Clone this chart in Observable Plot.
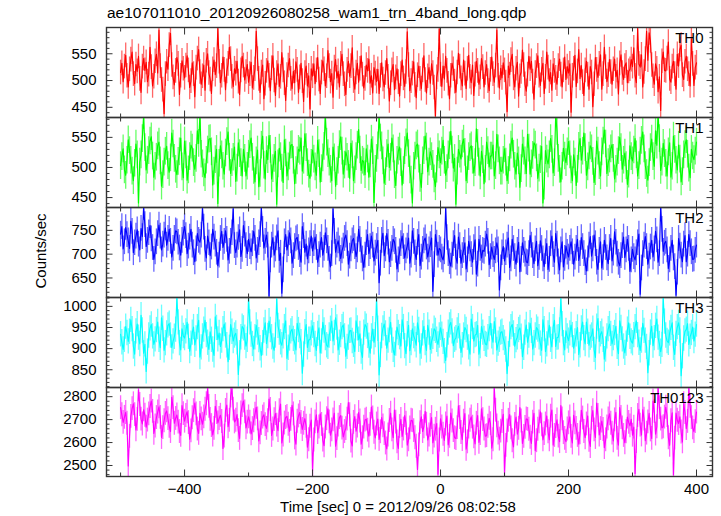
<!DOCTYPE html>
<html><head><meta charset="utf-8">
<script src="https://cdn.jsdelivr.net/npm/d3@7"></script>
<script src="https://cdn.jsdelivr.net/npm/@observablehq/plot@0.6"></script>
<style>
body{margin:0;background:#fff;}
#wrap{position:relative;width:721px;height:516px;font-family:"Liberation Sans",Arial,Helvetica,sans-serif;color:#000;overflow:hidden;}
#title{position:absolute;left:107px;top:4px;font-size:15.5px;white-space:nowrap;}
#ylab{position:absolute;left:40px;top:251px;font-size:15px;white-space:nowrap;transform:translate(-50%,-50%) rotate(-90deg);}
#xlab{position:absolute;left:398px;top:498px;font-size:15px;white-space:nowrap;transform:translateX(-50%);}
</style></head><body>
<div id="wrap">
<div id="title">ae107011010_20120926080258_wam1_trn_4band_long.qdp</div>
<div id="ylab">Counts/sec</div>
<div id="xlab">Time [sec] 0 = 2012/09/26 08:02:58</div>
</div>
<script>
// time grid (sec): one value every tStep seconds from tStart
const tStart = -500, tStep = 2;

const th0 = [515,532,498,526,547,509,488,521,539,553,512,494,530,517,545,503,478,526,541,519,
534,498,511,562,525,490,507,536,549,514,594,527,501,483,438,512,535,521,566,588,
529,506,492,518,543,531,474,509,537,522,
505,528,546,519,487,499,533,512,470,524,541,558,516,493,508,529,482,537,550,514,
502,476,521,538,511,527,597,535,496,509,544,520,483,517,531,562,540,507,489,522,
513,536,498,474,519,545,528,501,516,530,
497,512,534,486,505,521,592,540,503,478,515,529,466,494,518,537,509,481,523,546,
500,472,514,531,489,507,552,519,495,463,510,528,541,503,485,517,496,535,520,478,
506,532,499,461,514,527,490,509,447,522,
508,531,494,519,543,502,476,515,537,521,490,508,556,527,498,513,469,524,539,505,
517,488,531,549,512,493,474,520,536,508,527,561,499,484,515,532,497,522,546,511,
486,503,529,518,540,495,509,477,524,513,
498,521,476,509,533,502,488,514,541,507,462,495,519,530,483,506,522,497,471,512,
538,504,489,516,591,529,481,499,513,535,492,468,510,527,503,485,519,546,501,477,
508,524,495,531,514,487,434,506,520,596,
511,489,527,503,545,518,494,466,509,532,521,498,478,515,551,526,504,490,538,513,
485,522,547,507,496,529,472,511,536,518,493,506,541,525,488,514,530,499,481,520,
544,512,497,528,594,509,486,523,505,533,
519,496,442,527,511,538,549,504,488,522,534,471,508,516,557,529,493,480,511,545,
521,536,498,465,514,527,546,509,491,520,532,476,507,553,524,499,515,482,531,518,
505,493,527,540,511,488,519,544,502,526,
514,531,441,509,522,547,489,517,558,504,528,497,472,519,536,511,484,526,515,451,
493,543,520,506,531,548,484,512,562,525,498,510,539,516,493,521,540,507,519,475,
532,548,514,502,527,533,496,517,521,539,
526,561,509,496,597,531,525,548,488,516,540,592,538,589,574,529,508,493,531,522,
479,507,444,536,553,519,518,541,572,503,497,526,536,512,484,549,527,558,566,510,
502,535,545,521,512,490,578,531,491,524,533];

const th1 = [503,518,531,496,487,512,546,528,512,494,478,507,539,521,441,509,521,548,586,533,
496,512,528,544,551,519,484,502,517,536,542,511,469,488,509,527,535,503,492,516,
557,539,515,497,488,510,526,549,501,483,
544,521,479,496,518,537,532,508,497,515,561,540,589,522,506,491,483,512,529,547,
548,526,471,494,513,530,440,507,536,521,502,489,524,543,559,517,490,508,517,534,
477,499,541,523,508,486,530,515,486,502,
522,538,549,517,495,476,511,529,468,490,537,552,504,481,528,513,553,530,481,498,
515,527,439,506,532,518,499,475,546,524,486,501,519,537,538,512,473,495,511,530,
527,549,494,512,556,533,508,489,482,507,
529,514,501,487,545,523,476,498,516,535,588,542,523,509,497,478,534,516,469,493,
512,538,551,527,489,504,526,517,505,482,540,521,478,496,518,537,563,529,495,512,
509,488,531,514,484,506,547,528,442,497,
515,536,587,549,536,511,474,493,523,539,500,517,549,531,488,470,512,527,534,508,
471,495,528,541,557,523,496,479,441,502,519,536,539,514,482,467,511,528,552,534,
493,509,526,518,505,481,468,497,533,521,
508,527,545,512,487,498,521,536,560,529,499,515,439,494,530,522,514,539,547,525,
478,496,518,533,536,512,491,508,564,540,509,486,527,513,473,497,542,528,501,519,
519,537,486,503,555,531,511,494,494,512,
531,509,478,495,516,537,549,522,502,489,524,511,467,498,539,527,511,490,555,532,
489,506,520,541,537,516,482,499,513,535,441,469,528,514,506,521,548,530,491,508,
589,560,515,497,476,502,532,519,508,526,
543,521,496,478,521,509,470,497,535,548,512,527,557,533,487,501,519,536,531,510,
475,493,544,527,503,486,526,544,562,539,490,508,514,531,538,515,481,497,509,528,
550,533,497,512,524,503,472,489,536,518,
511,529,548,521,486,503,527,545,559,531,503,490,479,508,533,547,518,502,561,537,
590,548,495,509,540,523,507,486,526,541,484,502,552,530,512,496,537,514,476,493,
521,538,546,522,499,483,530,519,513,527,542];

const th2 = [742,758,711,726,756,741,728,712,769,748,703,724,738,751,721,709,754,737,798,762,
716,729,745,760,732,714,689,705,726,743,761,738,709,721,740,755,719,733,752,727,
694,712,733,749,747,725,713,698,729,744,
758,739,701,717,736,752,719,703,684,711,743,729,725,740,796,757,710,692,738,724,
697,715,752,736,721,704,676,698,733,748,714,727,749,731,688,706,727,745,795,718,
703,719,735,751,695,710,760,742,718,701,
731,716,705,722,748,733,692,708,724,741,797,752,713,727,740,719,612,688,719,735,
698,711,734,749,687,702,618,667,726,741,709,722,745,728,681,697,716,732,735,714,
699,683,758,739,704,721,690,707,722,738,
707,722,736,714,683,699,719,735,698,712,745,728,712,689,673,701,795,748,704,719,
728,711,691,707,717,733,740,722,679,696,711,728,733,716,695,709,752,731,708,690,
672,698,724,741,701,716,738,719,686,702,
716,729,640,681,729,744,697,711,743,725,684,699,712,731,726,708,669,688,705,722,
738,716,692,707,717,734,681,698,749,727,703,689,725,741,676,694,710,728,734,715,
694,709,720,734,622,678,741,723,698,712,
709,694,688,705,797,735,701,684,675,698,722,739,694,681,736,718,681,697,708,724,
669,688,727,711,699,683,714,730,658,679,731,712,692,708,706,721,742,727,678,695,
715,699,689,707,724,709,625,671,703,716,
686,703,719,734,672,690,731,712,695,679,708,725,663,689,724,708,700,684,682,701,
739,719,697,680,711,727,676,693,728,712,690,674,705,722,668,689,722,738,699,683,
743,721,684,667,709,726,673,691,717,704,
694,712,726,705,679,694,712,731,687,701,735,716,701,682,665,690,719,737,696,711,
740,722,683,668,708,726,671,693,729,714,692,680,714,733,686,702,747,725,700,683,
676,697,718,736,693,709,731,712,664,688,
710,695,688,703,724,742,616,671,701,719,737,716,679,696,715,729,694,711,748,730,
683,701,799,752,706,723,727,709,670,688,712,729,692,674,614,662,733,717,698,684,
721,739,684,700,741,722,705,689,690,708,719];

const th3 = [934,915,898,921,952,937,917,940,968,946,905,887,941,958,926,911,979,943,889,910,
846,893,931,948,957,929,910,922,944,963,921,902,973,947,896,913,936,955,959,931,
903,917,928,945,1019,962,913,897,947,930,
925,941,962,928,894,912,938,951,909,924,951,967,880,903,929,945,967,932,914,898,
940,921,898,884,975,949,922,937,905,919,946,958,931,908,869,902,957,940,918,931,
936,915,839,889,927,952,948,926,906,921,
1018,962,933,911,899,927,955,938,920,901,884,913,943,961,912,930,965,944,927,905,
896,931,1017,954,938,915,908,929,951,966,877,902,924,941,946,923,915,897,960,944,
930,915,842,886,939,957,903,921,921,936,
954,932,911,896,935,949,890,917,962,943,925,908,904,931,947,965,918,937,973,950,
897,914,932,951,956,929,882,904,926,942,943,918,909,893,966,948,921,935,893,879,
938,957,952,930,907,889,929,946,915,932,
1016,947,838,885,930,948,958,936,901,919,944,962,919,897,885,912,951,937,927,906,
968,951,906,888,934,955,895,913,947,930,922,908,961,944,889,905,936,953,913,896,
955,938,898,917,928,947,942,921,910,931,
949,933,916,894,872,908,938,955,962,941,907,921,925,943,953,929,891,908,931,950,
944,926,903,887,970,951,918,932,934,955,887,906,952,938,923,911,909,927,946,960,
929,915,964,943,897,912,921,938,940,925,
914,898,841,887,933,951,957,936,906,920,927,944,949,928,881,902,938,956,915,931,
960,942,899,913,931,950,945,927,912,896,968,946,893,910,936,955,921,904,951,967,
905,926,927,943,1018,958,913,897,942,929,
919,936,956,932,901,917,934,950,886,908,948,963,925,911,963,940,908,926,931,947,
897,879,952,971,917,934,940,921,875,898,929,946,958,935,911,925,937,953,904,888,
966,949,922,905,890,912,945,961,928,917,
913,932,951,966,932,914,896,919,960,942,919,904,843,889,938,953,907,925,954,970,
926,911,893,909,1019,964,931,918,914,936,949,961,902,886,935,951,961,943,836,882,
924,941,945,959,910,928,937,951,918,933,957];

const th0123 = [2752,2721,2688,2710,2731,2684,2498,2627,2714,2748,2769,2722,2655,2701,2830,2766,2702,2681,2743,2719,
2667,2698,2725,2757,2781,2736,2640,2672,2709,2733,2756,2710,2622,2665,2695,2727,2738,2704,2671,2648,
2797,2752,2684,2705,2720,2689,2648,2631,2761,2726,
2693,2718,2734,2687,2615,2651,2708,2739,2772,2725,2659,2640,2727,2703,2680,2712,2745,2769,2836,2758,
2701,2674,2633,2662,2758,2731,2686,2705,2719,2692,2574,2628,2740,2763,2669,2697,2803,2835,2746,2690,
2697,2722,2652,2618,2729,2761,2781,2734,2664,2689,
2712,2689,2638,2661,2695,2724,2754,2703,2607,2642,2683,2711,2721,2678,2662,2695,2790,2744,2631,2659,
2700,2726,2676,2652,2739,2768,2598,2633,2685,2709,2714,2680,2649,2701,2762,2725,2620,2593,2693,2716,
2731,2688,2657,2684,2704,2671,2580,2612,2671,2698,
2478,2611,2690,2721,2643,2668,2725,2679,2611,2586,2668,2704,2747,2690,2632,2655,2699,2728,2584,2617,
2676,2709,2718,2663,2625,2648,2661,2702,2774,2721,2606,2585,2688,2713,2650,2672,2731,2694,2593,2621,
2667,2698,2702,2654,2628,2679,2755,2707,2645,2620,
2681,2702,2614,2647,2709,2673,2639,2598,2572,2633,2696,2728,2655,2621,2742,2689,2603,2574,2670,2701,
2627,2659,2718,2684,2589,2612,2664,2697,2695,2652,2621,2584,2483,2590,2687,2712,2648,2669,2736,2680,
2611,2633,2675,2709,2599,2628,2658,2683,2462,2611,
2703,2668,2636,2609,2681,2715,2590,2627,2729,2694,2652,2621,2617,2665,2760,2709,2644,2613,2693,2726,
2571,2603,2668,2697,2712,2667,2625,2594,2684,2718,2601,2639,2747,2700,2659,2628,2630,2671,2706,2682,
2576,2612,2838,2741,2673,2641,2615,2650,2692,2723,
2470,2588,2651,2697,2722,2664,2608,2581,2679,2711,2637,2662,2753,2694,2596,2627,2666,2703,2701,2658,
2623,2596,2689,2727,2565,2608,2658,2690,2734,2677,2612,2639,2681,2716,2647,2612,2715,2742,2589,2631,
2670,2699,2628,2604,2761,2703,2643,2618,2604,2659,
2686,2712,2627,2598,2719,2686,2662,2631,2593,2642,2741,2707,2648,2621,2681,2716,2610,2583,2706,2739,
2655,2622,2772,2718,2633,2661,2694,2657,2578,2612,2668,2703,2725,2684,2641,2607,2699,2732,2618,2589,
2752,2709,2664,2631,2599,2647,2711,2688,2673,2701,
2632,2667,2465,2604,2718,2745,2676,2633,2743,2702,2608,2641,2690,2727,2655,2618,2781,2736,2637,2669,
2837,2752,2702,2664,2669,2711,2754,2718,2621,2588,2695,2730,2460,2619,2728,2697,2683,2712,2646,2603,
2770,2731,2661,2692,2836,2758,2709,2664,2648,2691,2733];

const panelNames = ["TH0","TH1","TH2","TH3","TH0123"];
const panelColors = ["#ff0000","#00ff00","#0000ff","#00ffff","#ff00ff"];
const errHalf = [23, 23, 27, 30, 52];           // 1-sigma error bar half-length (counts/sec)
const yDomains = [[431,599],[433.5,583],[609,798],[808,1021],[2452,2840]];
const yMajor = [[450,500,550],[450,500,550],[650,700,750],[850,900,950,1000],[2500,2600,2700,2800]];
const yMinorStep = [10,10,10,10,20];
const xDomain = [-522, 425];
const xMajor = [-400,-200,0,200,400];
const xMinor = [-500,-300,-100,100,300];

const series = [th0, th1, th2, th3, th0123];
const FONT = '"Liberation Sans", Arial, Helvetica, sans-serif';
const tops = [27, 117, 207, 297, 387];
const heights = [90, 90, 90, 90, 89];
const wrap = document.getElementById("wrap");
const blank = () => "";
const plain = d => String(d);

series.forEach((vals, i) => {
  const data = vals.map((v, k) => ({t: tStart + k * tStep, v}));
  const last = i === series.length - 1;
  const [lo, hi] = yDomains[i];
  const st = yMinorStep[i];
  const minorY = d3.range(Math.ceil(lo / st) * st, hi, st).filter(d => !yMajor[i].includes(d));
  const err = errHalf[i];
  const tick = {stroke: "#333", label: null, tickFormat: blank};
  const chart = Plot.plot({
    width: 721,
    height: heights[i] + (last ? 40 : 0),
    marginLeft: 106, marginRight: 9, marginTop: 0, marginBottom: last ? 40 : 0,
    x: {domain: xDomain},
    y: {domain: yDomains[i]},
    style: {fontFamily: FONT, fontSize: "15px", background: "transparent", overflow: "visible", color: "#000"},
    marks: [
      Plot.ruleX(data, {x: "t", y1: d => d.v - err, y2: d => d.v + err, stroke: panelColors[i], strokeOpacity: 0.6, strokeWidth: 1.3, clip: true}),
      Plot.line(data, {x: "t", y: "v", stroke: panelColors[i], strokeWidth: 1.15, clip: true}),
      Plot.axisY(yMajor[i], {anchor: "left", stroke: "#333", label: null, tickSize: -6.5, tickPadding: 16.5, fill: "#000", fontSize: 15, tickFormat: plain}),
      Plot.axisY(minorY, {...tick, anchor: "left", tickSize: -3.5}),
      Plot.axisY(yMajor[i], {...tick, anchor: "right", tickSize: -6.5}),
      Plot.axisY(minorY, {...tick, anchor: "right", tickSize: -3.5}),
      Plot.axisX(xMajor, {...tick, anchor: "top", tickSize: -6.5}),
      Plot.axisX(xMinor, {...tick, anchor: "top", tickSize: -3.5}),
      last
        ? Plot.axisX(xMajor, {anchor: "bottom", stroke: "#333", label: null, tickSize: -6.5, tickPadding: 13.5, fill: "#000", fontSize: 15})
        : Plot.axisX(xMajor, {...tick, anchor: "bottom", tickSize: -6.5}),
      Plot.axisX(xMinor, {...tick, anchor: "bottom", tickSize: -3.5}),
      Plot.frame({stroke: "#333", strokeWidth: 1.4}),
      Plot.text([panelNames[i]], {text: d => d, frameAnchor: "top-right", dx: -9, dy: 5, fontSize: 15, fill: "#000"})
    ]
  });
  chart.style.position = "absolute";
  chart.style.left = "0px";
  chart.style.top = tops[i] + "px";
  wrap.appendChild(chart);
});
</script>
</body></html>
